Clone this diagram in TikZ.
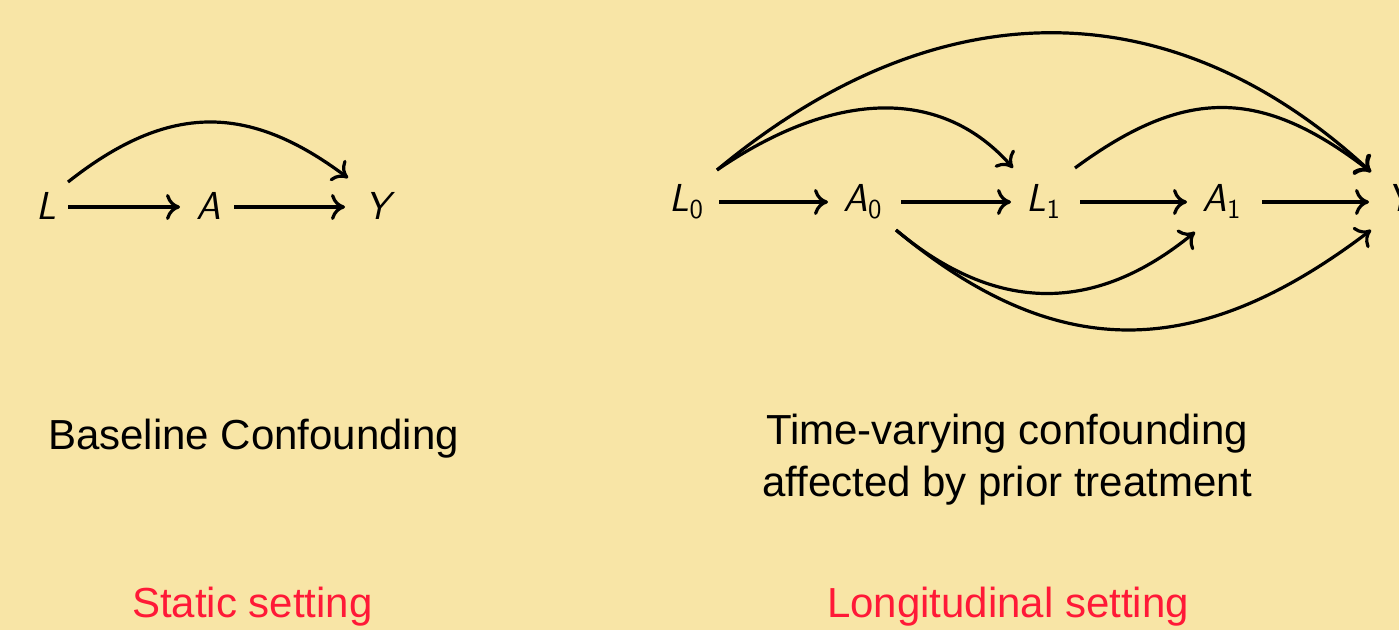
\documentclass[tikz,border=0pt]{standalone}
\usepackage{amsmath}
\usepackage{fontspec}
\setmainfont{Liberation Sans}
\usetikzlibrary{arrows.meta}
\definecolor{bgc}{RGB}{248,229,166}
\definecolor{redlbl}{RGB}{255,25,55}
\newcommand\nv[2]{{\itshape #1}$_{\text{#2}}$}
\tikzset{
  var/.style={anchor=base, inner sep=0pt, font=\fontsize{19.5pt}{22pt}\selectfont\sffamily},
  arr/.style={line width=1.6pt, -{Computer Modern Rightarrow[length=7pt,width=13pt]}},
  lbl/.style={anchor=base, inner sep=0pt, align=center, font=\fontsize{21pt}{26pt}\selectfont},
  setting/.style={lbl, text=redlbl},
}
\begin{document}
\begin{tikzpicture}[x=0.5pt, y=-0.5pt]
\useasboundingbox (0,0) rectangle (1399,630);
\fill[bgc] (0,0) rectangle (1399,630);

% static DAG
\node[var] (L) at (46,220) {\itshape L};
\node[var] (A) at (209,220) {\itshape A};
\node[var] (Y) at (378,220) {\itshape Y};
\draw[arr] ([shift={(22,-13)}]L.base) -- ([shift={(-29,-13)}]A.base);
\draw[arr] ([shift={(25,-13)}]A.base) -- ([shift={(-33,-13)}]Y.base);
\draw[arr] ([shift={(22,-38)}]L.base) .. controls (168,103) and (248,103) .. ([shift={(-30,-42)}]Y.base);

% longitudinal DAG
\node[var] (L0) at (687,212) {\nv{L}{0}};
\node[var] (A0) at (863,212) {\nv{A}{0}};
\node[var] (L1) at (1044,212) {\nv{L}{1}};
\node[var] (A1) at (1222,212) {\nv{A}{1}};
\node[var] (Yr) at (1400,212) {\itshape Y};
\draw[arr] ([shift={(32,-10)}]L0.base) -- ([shift={(-35,-10)}]A0.base);
\draw[arr] ([shift={(38,-10)}]A0.base) -- ([shift={(-33,-10)}]L1.base);
\draw[arr] ([shift={(36,-10)}]L1.base) -- ([shift={(-35,-10)}]A1.base);
\draw[arr] ([shift={(40,-10)}]A1.base) -- ([shift={(-31,-10)}]Yr.base);
\draw[arr] ([shift={(30,-42)}]L0.base) .. controls (837,88) and (943,88) .. ([shift={(-31,-44)}]L1.base);
\draw[arr] ([shift={(30,-42)}]L0.base) .. controls (937,-13) and (1171,-13) .. ([shift={(-29,-40)}]Yr.base);
\draw[arr] ([shift={(31,-44)}]L1.base) .. controls (1185,87) and (1261,87) .. ([shift={(-29,-40)}]Yr.base);
\draw[arr] ([shift={(33,18)}]A0.base) .. controls (996,314) and (1095,314) .. ([shift={(-27,20)}]A1.base);
\draw[arr] ([shift={(33,18)}]A0.base) .. controls (1056,363) and (1196,363) .. ([shift={(-29,18)}]Yr.base);

% labels
\node[lbl] (base) at (253.5,450) {Baseline Confounding};
\node[lbl] (tv) at (1007,497) {Time-varying confounding\\affected by prior treatment};
\node[setting] (st) at (252.5,618) {Static setting};
\node[setting] (lo) at (1008,618) {Longitudinal setting};
\end{tikzpicture}
\end{document}
